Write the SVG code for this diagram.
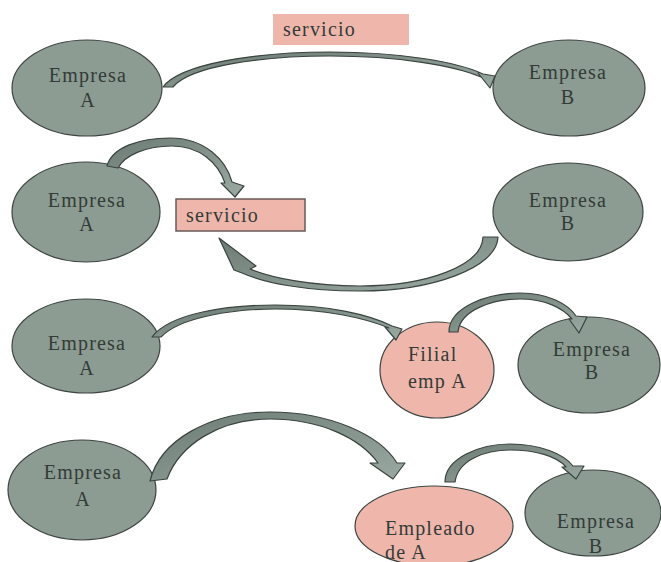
<svg xmlns="http://www.w3.org/2000/svg" width="661" height="562" viewBox="0 0 661 562">
<defs>
<linearGradient id="ag" x1="0" y1="0" x2="1" y2="1">
<stop offset="0" stop-color="#6c7c75"/>
<stop offset="1" stop-color="#9aaaa2"/>
</linearGradient>
</defs>
<style>
.n{fill:#8c9c92;stroke:#3e4440;stroke-width:1.2}
.p{fill:#efb7ac;stroke:#3e4440;stroke-width:1.2}
.r{fill:#efb7ac}
.rb{fill:#efb7ac;stroke:#6a5a58;stroke-width:1.5}
.a{fill:url(#ag);stroke:#3a433f;stroke-width:1.2;stroke-linejoin:round}
text{font-family:"Liberation Serif","Times New Roman",serif;font-size:20px;letter-spacing:1.2px;fill:#333b37}
.c{text-anchor:middle}
</style>
<rect width="661" height="562" fill="#ffffff"/>

<g id="r1-label"><rect class="r" x="273" y="14" width="136" height="31"/><text x="283" y="36">servicio</text></g>
<g id="r1-a"><ellipse class="n" cx="87" cy="88" rx="75" ry="48"/><text class="c" x="88" y="82">Empresa</text><text class="c" x="88" y="107">A</text></g>
<g id="r1-b"><ellipse class="n" cx="569" cy="88" rx="76" ry="48"/><text class="c" x="568" y="79">Empresa</text><text class="c" x="568" y="104">B</text></g>

<g id="r2-a"><ellipse class="n" cx="86" cy="212" rx="74" ry="50"/><text class="c" x="87" y="207">Empresa</text><text class="c" x="87" y="231">A</text></g>
<g id="r2-label"><rect class="rb" x="176" y="199" width="129" height="32"/><text x="186" y="222">servicio</text></g>
<g id="r2-b"><ellipse class="n" cx="568" cy="212" rx="75" ry="49"/><text class="c" x="568" y="207">Empresa</text><text class="c" x="568" y="230">B</text></g>

<g id="r3-a"><ellipse class="n" cx="86" cy="346" rx="74" ry="47"/><text class="c" x="87" y="350">Empresa</text><text class="c" x="87" y="375">A</text></g>
<g id="r3-filial"><ellipse class="p" cx="437" cy="370" rx="57" ry="48"/><text x="408" y="361">Filial</text><text x="408" y="388">emp A</text></g>
<g id="r3-b"><ellipse class="n" cx="589" cy="365" rx="71" ry="48"/><text class="c" x="592" y="356">Empresa</text><text class="c" x="592" y="379">B</text></g>

<g id="r4-a"><ellipse class="n" cx="82" cy="490" rx="74" ry="50"/><text class="c" x="83" y="479">Empresa</text><text class="c" x="83" y="506">A</text></g>
<g id="r4-empleado"><ellipse class="p" cx="434" cy="526" rx="79" ry="40"/><text x="385" y="535">Empleado</text><text x="385" y="559">de A</text></g>
<g id="r4-b"><ellipse class="n" cx="593" cy="513" rx="68" ry="43"/><text class="c" x="596" y="528">Empresa</text><text class="c" x="596" y="553">B</text></g>

<g id="conn">
<path class="a" d="M163 87 C180 64 255 52 330 52 C400 52 458 62 483 74 L495 76 L490 88 L478 73 L481 77 C455 66 400 56 330 56 C262 56 190 66 173 87 Z"/>
<path class="a" d="M107 166 C112 147 140 138 170 138 C205 138 226 160 232 182 L244 186 L235 197 L221 183 L225 183 C218 163 200 146 172 146 C146 146 125 155 118 168 Z"/>
<path class="a" d="M498 237 C497 268 432 291 360 291 C305 291 265 283 242 273 L234 270 L219 238 L256 266 L250 269 C272 278 312 286 360 286 C426 286 482 266 483 237 Z"/>
<path class="a" d="M152 337 C170 313 228 305 275 305 C330 305 370 315 392 326 L402 329 L396 340 L385 327 L389 328 C365 318 325 309 275 309 C234 309 180 317 161 337 Z"/>
<path class="a" d="M449 332 C449 306 490 293 520 293 C548 293 568 304 576 316 L587 317 L579 333 L569 319 L572 319 C563 308 545 299 520 299 C495 299 460 309 458 332 Z"/>
<path class="a" d="M150 481 C160 440 210 412 270 412 C330 412 380 435 397 463 L405 463 L393 479 L370 463 L378 463 C360 438 320 419 270 419 C220 419 180 444 167 479 Z"/>
<path class="a" d="M445 482 C445 458 480 444 510 444 C540 444 564 454 573 466 L584 466 L576 479 L562 467 L566 467 C557 456 535 450 510 450 C485 450 458 460 455 482 Z"/>
</g>
</svg>
